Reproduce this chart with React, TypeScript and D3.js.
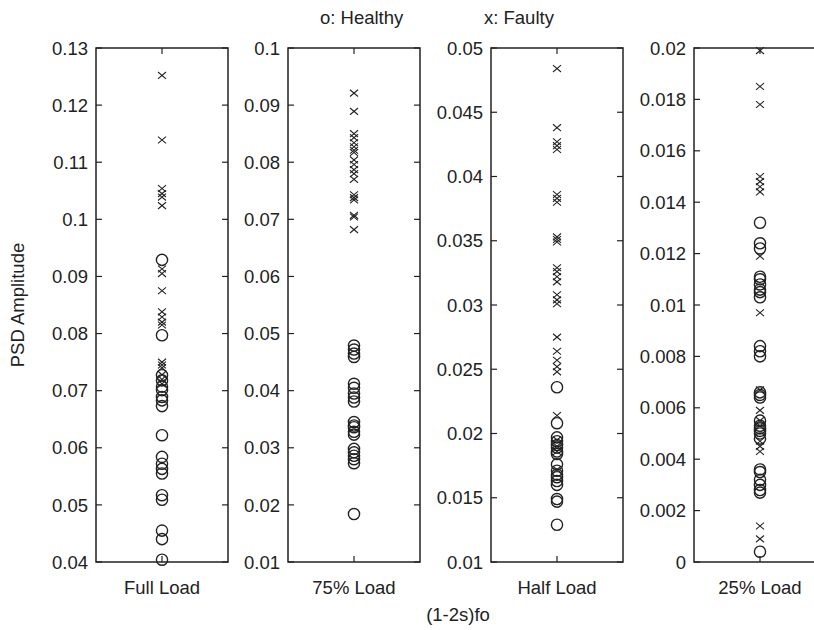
import React from "react";
import * as d3 from "d3";

const categories = ["Full Load", "75% Load", "Half Load", "25% Load"];

const fullHealthy = [0.0929, 0.0797, 0.0727, 0.0718, 0.0707, 0.0701, 0.0689, 0.0683, 0.0673, 0.0622, 0.0584, 0.0572, 0.0563, 0.0555, 0.0517, 0.0509, 0.0455, 0.044, 0.0404];
const fullFaulty = [0.1252, 0.1139, 0.1054, 0.1045, 0.1039, 0.1024, 0.0913, 0.0905, 0.0875, 0.0838, 0.0829, 0.082, 0.0815, 0.075, 0.0745, 0.074, 0.0728, 0.072, 0.0712];

const load75Healthy = [0.0479, 0.0472, 0.0465, 0.0459, 0.0412, 0.0405, 0.0395, 0.0388, 0.0381, 0.0345, 0.0339, 0.0336, 0.0328, 0.0323, 0.0298, 0.0292, 0.0286, 0.028, 0.0273, 0.0184];
const load75Faulty = [0.0921, 0.0889, 0.085, 0.0843, 0.0834, 0.0827, 0.0821, 0.0817, 0.0804, 0.0796, 0.0787, 0.078, 0.077, 0.0743, 0.0738, 0.0734, 0.0707, 0.0704, 0.0682];

const halfHealthy = [0.0236, 0.0208, 0.0197, 0.0194, 0.0191, 0.0189, 0.0186, 0.0184, 0.0176, 0.0171, 0.0168, 0.0166, 0.0163, 0.016, 0.0149, 0.0147, 0.0129];
const halfFaulty = [0.0484, 0.0438, 0.0427, 0.0424, 0.0421, 0.0386, 0.0383, 0.038, 0.0353, 0.0351, 0.0349, 0.0329, 0.0326, 0.0322, 0.0318, 0.0308, 0.0304, 0.0301, 0.0275, 0.0264, 0.0257, 0.0252, 0.0248, 0.0214, 0.0195, 0.019, 0.0186, 0.0172];

const load25Healthy = [0.0132, 0.0124, 0.0122, 0.0111, 0.011, 0.0108, 0.0106, 0.0105, 0.0103, 0.0084, 0.0082, 0.008, 0.0066, 0.0065, 0.0064, 0.0055, 0.0053, 0.0052, 0.0051, 0.005, 0.0048, 0.0036, 0.0035, 0.0032, 0.003, 0.0028, 0.0027, 0.0004];
const load25Faulty = [0.0199, 0.0185, 0.0178, 0.015, 0.0148, 0.0146, 0.0144, 0.0119, 0.0097, 0.0067, 0.0059, 0.0055, 0.0053, 0.0047, 0.0045, 0.0043, 0.0014, 0.0009];

const fullTicks = [0.04, 0.05, 0.06, 0.07, 0.08, 0.09, 0.1, 0.11, 0.12, 0.13];
const load75Ticks = [0.01, 0.02, 0.03, 0.04, 0.05, 0.06, 0.07, 0.08, 0.09, 0.1];
const halfTicks = [0.01, 0.015, 0.02, 0.025, 0.03, 0.035, 0.04, 0.045, 0.05];
const load25Ticks = [0, 0.002, 0.004, 0.006, 0.008, 0.01, 0.012, 0.014, 0.016, 0.018, 0.02];

const healthyLabel = "o: Healthy";
const faultyLabel = "x: Faulty";
const yLabel = "PSD Amplitude";
const xLabel = "(1-2s)fo";

const panels = [
  { name: categories[0], healthy: fullHealthy, faulty: fullFaulty, ticks: fullTicks },
  { name: categories[1], healthy: load75Healthy, faulty: load75Faulty, ticks: load75Ticks },
  { name: categories[2], healthy: halfHealthy, faulty: halfFaulty, ticks: halfTicks },
  { name: categories[3], healthy: load25Healthy, faulty: load25Faulty, ticks: load25Ticks },
];

const W = 814;
const H = 630;
const TOP = 48;
const BOTTOM = 562;
const PANEL_W = 132;
const PANEL_LEFTS = [96, 288, 491, 694];
const INK = "#222";
const FONT = "'Liberation Sans', Arial, Helvetica, sans-serif";
const FS = 18.5;

const fmt = (v: number) => String(+v.toFixed(4));

function Panel({ p, left }: { p: (typeof panels)[number]; left: number }) {
  const dom = d3.extent(p.ticks) as [number, number];
  const y = d3.scaleLinear().domain(dom).range([BOTTOM, TOP]);
  const x = d3.scalePoint<string>().domain([p.name]).range([left, left + PANEL_W]).padding(0.5);
  const cx = x(p.name) as number;
  const tl = 6;
  const r = 5.6;
  const xs = 4;
  return (
    <g>
      {p.ticks.map((t) => (
        <g key={t}>
          <line x1={left} x2={left + tl} y1={y(t)} y2={y(t)} stroke={INK} strokeWidth={1.2} />
          <line x1={left + PANEL_W} x2={left + PANEL_W - tl} y1={y(t)} y2={y(t)} stroke={INK} strokeWidth={1.2} />
          <text x={left - 8} y={y(t)} dy="0.36em" textAnchor="end" fontSize={FS} fill={INK} fontFamily={FONT}>
            {fmt(t)}
          </text>
        </g>
      ))}
      <line x1={cx} x2={cx} y1={BOTTOM} y2={BOTTOM - tl} stroke={INK} strokeWidth={1.2} />
      <line x1={cx} x2={cx} y1={TOP} y2={TOP + tl} stroke={INK} strokeWidth={1.2} />
      <text x={cx} y={594} textAnchor="middle" fontSize={FS} fill={INK} fontFamily={FONT}>
        {p.name}
      </text>
      {p.healthy.map((v, i) => (
        <circle key={"h" + i} cx={cx} cy={y(v)} r={r} fill="none" stroke={INK} strokeWidth={1.4} />
      ))}
      {p.faulty.map((v, i) => (
        <path
          key={"f" + i}
          d={`M${cx - xs},${y(v) - xs * 0.85}L${cx + xs},${y(v) + xs * 0.85}M${cx - xs},${y(v) + xs * 0.85}L${cx + xs},${y(v) - xs * 0.85}`}
          stroke={INK}
          strokeWidth={1.1}
          fill="none"
        />
      ))}
      <rect x={left} y={TOP} width={PANEL_W} height={BOTTOM - TOP} fill="none" stroke={INK} strokeWidth={1.5} />
    </g>
  );
}

export default function App() {
  return (
    <svg
      width={W}
      height={H}
      viewBox={`0 0 ${W} ${H}`}
      style={{ position: "absolute", left: 0, top: 0, background: "#fff", overflow: "hidden" }}
    >
      <rect x={0} y={0} width={W} height={H} fill="#fff" />
      {panels.map((p, i) => (
        <Panel key={p.name} p={p} left={PANEL_LEFTS[i]} />
      ))}
      <text x={320} y={24} fontSize={FS} fill={INK} fontFamily={FONT}>
        {healthyLabel}
      </text>
      <text x={484} y={24} fontSize={FS} fill={INK} fontFamily={FONT}>
        {faultyLabel}
      </text>
      <text
        transform={`translate(24,${(TOP + BOTTOM) / 2}) rotate(-90)`}
        textAnchor="middle"
        fontSize={FS}
        fill={INK}
        fontFamily={FONT}
      >
        {yLabel}
      </text>
      <text x={458} y={621} textAnchor="middle" fontSize={FS} fill={INK} fontFamily={FONT}>
        {xLabel}
      </text>
    </svg>
  );
}
